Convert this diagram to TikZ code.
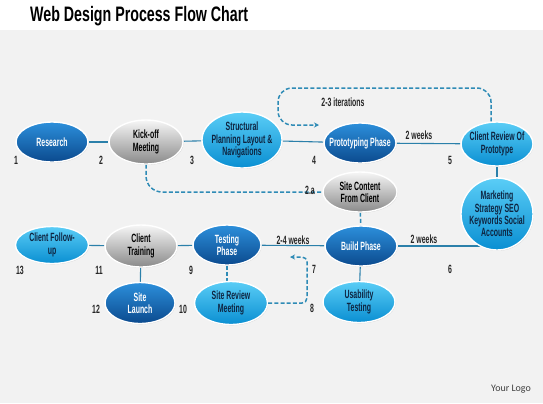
\documentclass[tikz,border=0pt]{standalone}
\usepackage{fontspec}
\setmainfont{Liberation Sans}
\newfontfamily\cond[FakeStretch=0.58]{Liberation Sans}
\newfontfamily\condt[FakeStretch=0.68]{Liberation Sans}
\newfontfamily\logofont{Carlito}
\usetikzlibrary{shapes.geometric,arrows.meta,shadows,backgrounds}
\definecolor{lnc}{HTML}{2B80AA}
\definecolor{dlc}{HTML}{2E8BB6}
\definecolor{dbt}{HTML}{2C8FDB}
\definecolor{dbb}{HTML}{0B4A8E}
\definecolor{lbt}{HTML}{5ACDF6}
\definecolor{lbb}{HTML}{0A8FD2}
\definecolor{grt}{HTML}{F6F6F6}
\definecolor{grb}{HTML}{8A8A8A}
\definecolor{navy}{HTML}{0E2440}
\definecolor{bgc}{HTML}{F2F2F2}
\tikzset{
  tx/.style={inner sep=0pt, align=center, font=\cond\bfseries\fontsize{12}{12.5}\selectfont},
  en/.style={ellipse, inner sep=0pt, draw=white, line width=1.4pt,
    drop shadow={opacity=0.3, shadow xshift=0.6pt, shadow yshift=-0.8pt}},
  sz/.style 2 args={minimum width=#1bp, minimum height=#2bp},
  dk/.style={en, top color=dbt, bottom color=dbb, label={[tx,text=white]center:#1}},
  lt/.style={en, top color=lbt, bottom color=lbb, label={[tx,text=navy]center:#1}},
  gr/.style={en, top color=grt, bottom color=grb, label={[tx,text=black]center:#1}},
  ln/.style={draw=lnc, line width=1.1pt},
  dl/.style={draw=dlc, line width=1.5pt, dash pattern=on 4pt off 2.2pt},
  num/.style={inner sep=0pt, font=\cond\bfseries\fontsize{12}{12}\selectfont, text=black!85},
  tip/.style={-{Stealth[length=5bp,width=5bp]}},
}
\begin{document}
\begin{tikzpicture}[x=1bp,y=-1bp]
\useasboundingbox (0,0) rectangle (543,403);
% title
\node[anchor=west, inner sep=0pt, font=\condt\bfseries\fontsize{21}{21}\selectfont] (title) at (30,16) {Web Design Process Flow Chart};
% nodes
\node[dk={Research}, sz={72}{40}] (research) at (52,142) {};
\node[gr={Kick-off\\Meeting}, sz={74}{44}] (kick) at (146,142) {};
\node[lt={Structural\\Planning Layout \&\\Navigations}, sz={80}{56}] (struct) at (242,140) {};
\node[dk={Prototyping Phase}, sz={72}{40}] (proto) at (360,143) {};
\node[lt={Client Review Of\\Prototype}, sz={72}{44}] (crev) at (497,144) {};
\node[gr={Site Content\\From Client}, sz={74}{40}] (site) at (360,192) {};
\node[lt={Marketing\\Strategy SEO\\Keywords Social\\Accounts}, sz={72}{72}] (market) at (497,214) {};
\node[dk={Build Phase}, sz={72}{40}] (build) at (361,246) {};
\node[lt={Usability\\Testing}, sz={72}{41}] (usab) at (359,302) {};
\node[dk={Testing\\Phase}, sz={68}{40}] (testing) at (227,245) {};
\node[lt={Site Review\\Meeting}, sz={73}{43}] (review) at (231,303) {};
\node[gr={Client\\Training}, sz={72}{42}] (training) at (141,246) {};
\node[dk={Site\\Launch}, sz={70}{41}] (launch) at (140,303) {};
\node[lt={Client Follow-\\up}, sz={73}{37}] (follow) at (52,245) {};
% connectors on background
\begin{scope}[on background layer]
\fill[white] (0,0) rectangle (543,403);
\fill[bgc] (0,30) rectangle (543,403);
\draw[ln] (research) -- (kick);
\draw[ln] (kick) -- (struct);
\draw[ln] (struct) -- (proto);
\draw[ln] (proto) -- (crev);
\draw[ln] (crev) -- (market);
\draw[ln] (market.center |- build) -- (build);
\draw[ln] (build) -- (testing);
\draw[ln] (testing) -- (training);
\draw[ln] (training) -- (follow);
\draw[ln] (training) -- (launch);
\draw[ln] (build) -- (usab);
\draw[dl] (site) -- (build);
\draw[dl] (testing) -- (testing |- review);
\draw[dl, rounded corners=16bp] (kick) |- (site);
\end{scope}
% loops
\coordinate (itA) at (278,88);
\coordinate (itEnd) at (319,125);
\draw[dl, rounded corners=14bp, tip] ([xshift=-6bp]crev.north) |- (itA) |- (itEnd);
\coordinate (rvB) at (307,257);
\coordinate (rvEnd) at (290,257);
\draw[dl, rounded corners=5bp, tip] (review.east) -| (rvB) -- (rvEnd);
% numbers
\node[num] (n1) at (16,160) {1};
\node[num] (n2) at (101,160) {2};
\node[num] (n3) at (192,160) {3};
\node[num] (n4) at (314,160) {4};
\node[num] (n5) at (450,160) {5};
\node[num] (n2a) at (310,190) {2.a};
\node[num] (n6) at (450,269) {6};
\node[num] (n7) at (314,269) {7};
\node[num] (n8) at (312,308) {8};
\node[num] (n9) at (191,270) {9};
\node[num] (n10) at (183,309) {10};
\node[num] (n11) at (99,270) {11};
\node[num] (n12) at (96,309) {12};
\node[num] (n13) at (20,270) {13};
% labels
\node[num] (lit) at (343,102) {2-3 iterations};
\node[num] (lw1) at (419,135) {2 weeks};
\node[num] (lw2) at (293,240) {2-4 weeks};
\node[num] (lw3) at (424,239) {2 weeks};
\node[inner sep=0pt, font=\logofont\fontsize{10}{10}\selectfont, text=black!75] (logo) at (511,389) {Your Logo};
\end{tikzpicture}
\end{document}
